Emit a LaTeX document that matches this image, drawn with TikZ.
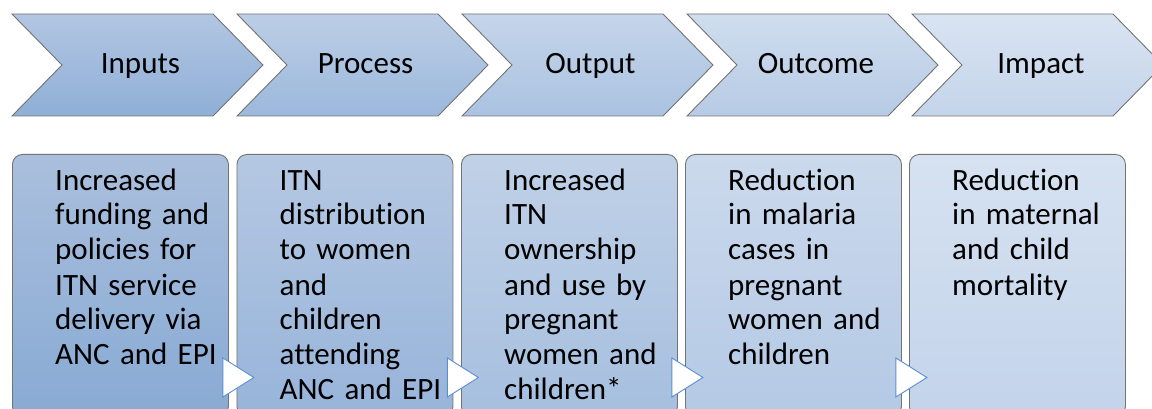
\documentclass[tikz,border=0pt]{standalone}
\usepackage{fontspec}
\setmainfont{Carlito}[Ligatures=CommonOff]
\usetikzlibrary{positioning,calc,shapes}
\definecolor{cT1}{RGB}{178,198,226}\definecolor{cB1}{RGB}{143,175,215}
\definecolor{cT2}{RGB}{188,206,230}\definecolor{cB2}{RGB}{156,184,220}
\definecolor{cT3}{RGB}{197,213,234}\definecolor{cB3}{RGB}{170,194,225}
\definecolor{cT4}{RGB}{207,221,238}\definecolor{cB4}{RGB}{183,203,229}
\definecolor{cT5}{RGB}{217,228,242}\definecolor{cB5}{RGB}{196,212,234}
\definecolor{bT1}{RGB}{170,191,221}\definecolor{bB1}{RGB}{136,170,212}
\definecolor{bT2}{RGB}{181,200,226}\definecolor{bB2}{RGB}{151,180,218}
\definecolor{bT3}{RGB}{192,209,231}\definecolor{bB3}{RGB}{166,191,223}
\definecolor{bT4}{RGB}{203,217,236}\definecolor{bB4}{RGB}{180,201,229}
\definecolor{bT5}{RGB}{214,226,241}\definecolor{bB5}{RGB}{195,211,234}
\definecolor{triBlue}{RGB}{91,143,207}
\tikzstyle{cS}=[draw=black!55,line width=0.9pt]
\tikzstyle{lS}=[anchor=base,inner sep=0pt,font=\fontsize{31}{35}\selectfont]
\tikzstyle{bS}=[draw=black!55,line width=0.9pt,rounded corners=10pt,anchor=north west,minimum width=216pt,minimum height=262pt,inner sep=0pt]
\tikzstyle{tS}=[anchor=base west,inner sep=0pt,text width=180pt,align=left,font=\fontsize{31}{35}\selectfont]
\tikzstyle{aS}=[draw=triBlue,fill=white,line width=0.9pt,line join=miter]
\begin{document}
\begin{tikzpicture}[x=1pt,y=-1pt]
                \useasboundingbox (0,0) rectangle (1152,409);
                \clip (0,0) rectangle (1152,409);
                % chevrons
                \draw[cS,top color=cT1,bottom color=cB1,shift={(12,0)}] (0,14) -- (201,14) -- (251,65) -- (201,116) -- (0,116) -- (50,65) -- cycle;
                \draw[cS,top color=cT2,bottom color=cB2,shift={(237,0)}] (0,14) -- (201,14) -- (251,65) -- (201,116) -- (0,116) -- (50,65) -- cycle;
                \draw[cS,top color=cT3,bottom color=cB3,shift={(462,0)}] (0,14) -- (201,14) -- (251,65) -- (201,116) -- (0,116) -- (50,65) -- cycle;
                \draw[cS,top color=cT4,bottom color=cB4,shift={(687,0)}] (0,14) -- (201,14) -- (251,65) -- (201,116) -- (0,116) -- (50,65) -- cycle;
                \draw[cS,top color=cT5,bottom color=cB5,shift={(912,0)}] (0,14) -- (201,14) -- (251,65) -- (201,116) -- (0,116) -- (50,65) -- cycle;
                \draw (140.5,73.5) node[lS] (l1) {Inputs};
                \draw (365.5,73.5) node[lS] (l2) {Process};
                \draw (590.5,73.5) node[lS] (l3) {Output};
                \draw (816,73.5) node[lS] (l4) {Outcome};
                \draw (1041,73.5) node[lS] (l5) {Impact};
                % boxes
                \draw (12,154) node[bS,top color=bT1,bottom color=bB1] (b1) {};
                \draw (236.5,154) node[bS,top color=bT2,bottom color=bB2] (b2) {};
                \draw (461,154) node[bS,top color=bT3,bottom color=bB3] (b3) {};
                \draw (685,154) node[bS,top color=bT4,bottom color=bB4] (b4) {};
                \draw (909,154) node[bS,top color=bT5,bottom color=bB5] (b5) {};
                \node[tS] (t1) at ($(b1.north west)+(43,36)$) {Increased\\funding and\\policies for\\ITN service\\delivery via\\ANC and EPI};
                \node[tS] (t2) at ($(b2.north west)+(43,36)$) {ITN\\distribution\\to women\\and\\children\\attending\\ANC and EPI};
                \node[tS] (t3) at ($(b3.north west)+(43,36)$) {Increased\\ITN\\ownership\\and use by\\pregnant\\women and\\children*};
                \node[tS] (t4) at ($(b4.north west)+(43,36)$) {Reduction\\in malaria\\cases in\\pregnant\\women and\\children};
                \node[tS] (t5) at ($(b5.north west)+(43,36)$) {Reduction\\in maternal\\and child\\mortality};
                % small arrows between boxes
                \draw[aS] ($(b1.north east)+(-6,204)$) -- ++(31,19.5) -- ++(-31,19.5) -- cycle;
                \draw[aS] ($(b2.north east)+(-6,204)$) -- ++(31,19.5) -- ++(-31,19.5) -- cycle;
                \draw[aS] ($(b3.north east)+(-6,204)$) -- ++(31,19.5) -- ++(-31,19.5) -- cycle;
                \draw[aS] ($(b4.north east)+(-6,204)$) -- ++(31,19.5) -- ++(-31,19.5) -- cycle;
        \end{tikzpicture}
\end{document}
